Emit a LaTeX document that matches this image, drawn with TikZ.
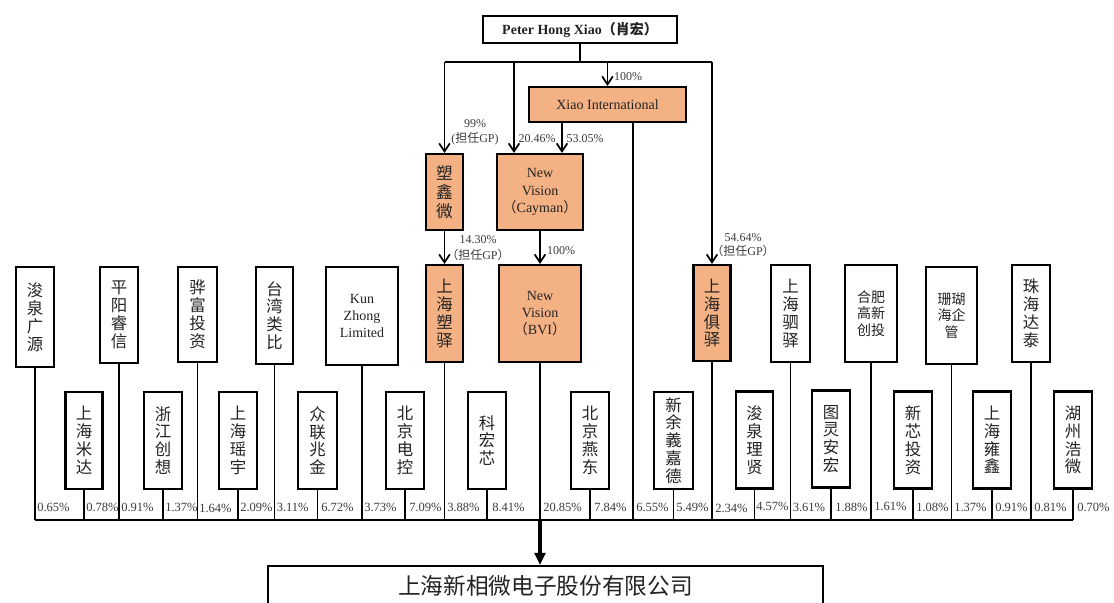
\documentclass[tikz,border=0pt]{standalone}
\usepackage{fontspec}
\setmainfont{Liberation Serif}
\newfontfamily\cjk{Noto Sans CJK SC}
\usetikzlibrary{arrows.meta}
\definecolor{orbox}{RGB}{244,177,131}
\definecolor{txt}{RGB}{35,35,35}
\definecolor{lbltxt}{RGB}{60,60,60}
\begin{document}
\begin{tikzpicture}[x=0.75pt,y=-0.75pt,
  box/.style={draw=black, line width=1.6pt, inner sep=0pt, align=center, text=txt},
  obox/.style={box, fill=orbox},
  sz/.style n args={2}{minimum width=#1*0.75pt, minimum height=#2*0.75pt},
  cv/.style={font=\cjk\fontsize{12.3}{13.4}\selectfont},
  cs/.style={font=\cjk\fontsize{10.5}{12.5}\selectfont},
  lt/.style={font=\fontsize{10.5}{13}\selectfont},
  ln/.style={line width=1.35pt, draw=black},
  arr/.style={ln, -{Straight Barb[length=6pt,width=8pt,line width=1.3pt]}},
  pct/.style={font=\fontsize{9.4}{11}\selectfont, text=lbltxt, inner sep=0pt, anchor=west},
  lbl/.style={font=\fontsize{9}{11}\selectfont, text=lbltxt, inner sep=0pt}
]
\useasboundingbox (0,0) rectangle (1114,603);
\fill[white] (0,0) rectangle (1114,603);

% top owner
\node[box, sz={194}{27}, font=\bfseries\fontsize{10.5}{12}\selectfont] (peter) at (580,29.5) {Peter Hong Xiao{\cjk\bfseries（肖宏）}};
\node[obox, sz={157}{35}, lt] (xi) at (607.5,104.5) {Xiao International};
\node[obox, sz={37}{76}, font=\cjk\fontsize{12.5}{14.2}\selectfont] (sx) at (444.5,192) {塑\\鑫\\微};
\node[obox, sz={86}{76}, lt] (cay) at (540,192) {New\\Vision\\{\cjk （}Cayman{\cjk ）}};
\node[obox, sz={37}{97}, cv] (sy) at (444.5,313.5) {上\\海\\塑\\驿};
\node[obox, sz={82}{97}, lt] (bvi) at (540,313.5) {New\\Vision\\{\cjk （}BVI{\cjk ）}};
\node[obox, sz={37}{96}, cv] (jy) at (712,313) {上\\海\\俱\\驿};

% top row white boxes
\node[box, sz={38}{100}, cv] (a1) at (35,317) {浚\\泉\\广\\源};
\node[box, sz={38}{96}, cv] (a2) at (119,315) {平\\阳\\睿\\信};
\node[box, sz={39}{95}, cv] (a3) at (197.5,314.5) {骅\\富\\投\\资};
\node[box, sz={37}{97}, cv] (a4) at (274.5,315.5) {台\\湾\\类\\比};
\node[box, sz={72}{98}, lt, font=\fontsize{10.5}{12.6}\selectfont] (a5) at (362,316) {Kun\\Zhong\\Limited};
\node[box, sz={39}{97}, cv] (a6) at (790.5,313.5) {上\\海\\驷\\驿};
\node[box, sz={52}{97}, cs] (a7) at (871,313.5) {合肥\\高新\\创投};
\node[box, sz={51}{97}, cs] (a8) at (951.5,315.5) {珊瑚\\海企\\管};
\node[box, sz={38}{97}, cv] (a9) at (1031,313.5) {珠\\海\\达\\泰};

% bottom row white boxes
\node[box, sz={37}{97}, cv] (b1) at (84,440.5) {上\\海\\米\\达};
\node[box, sz={38}{97}, cv] (b2) at (163,440.5) {浙\\江\\创\\想};
\node[box, sz={38}{97}, cv] (b3) at (238,440.5) {上\\海\\瑶\\宇};
\node[box, sz={39}{97}, cv] (b4) at (317.5,440.5) {众\\联\\兆\\金};
\node[box, sz={38}{97}, cv] (b5) at (405,440.5) {北\\京\\电\\控};
\node[box, sz={38}{97}, cv] (b6) at (487,440.5) {科\\宏\\芯};
\node[box, sz={38}{97}, cv] (b7) at (590,440.5) {北\\京\\燕\\东};
\node[box, sz={39}{97}, cv] (b8) at (673.5,440.5) {新\\余\\義\\嘉\\德};
\node[box, sz={37}{97}, cv] (b9) at (754.5,440) {浚\\泉\\理\\贤};
\node[box, sz={38}{97}, cv] (b10) at (831,439) {图\\灵\\安\\宏};
\node[box, sz={38}{97}, cv] (b11) at (913,440) {新\\芯\\投\\资};
\node[box, sz={38}{97}, cv] (b12) at (992,440) {上\\海\\雍\\鑫};
\node[box, sz={38}{97}, cv] (b13) at (1073,440) {湖\\州\\浩\\微};

% company
\node[box, sz={555}{40}, font=\cjk\fontsize{17}{20}\selectfont] (co) at (545.5,586) {上海新相微电子股份有限公司};

% coordinates
\coordinate (topJ) at (580,62);
\coordinate (hL) at (444.5,62);
\coordinate (h2) at (514,62);
\coordinate (h3) at (607.5,62);
\coordinate (hR) at (712,62);
\coordinate (xc) at (562,0);
\coordinate (xs) at (633,0);
\coordinate (busL) at (35,520);
\coordinate (busR) at (1073,520);
\coordinate (busM) at (540,520);

% top connectors
\draw[line width=2.2pt] (peter.south) -- (topJ);
\draw[ln] (hL) -- (hR);
\draw[arr] (hL) -- (sx.north);
\draw[arr] (h2) -- (h2 |- cay.north);
\draw[arr] (h3) -- (xi.north);
\draw[arr] (hR) -- (jy.north);
\draw[arr] (xi.south -| xc) -- (cay.north -| xc);
\draw[ln] (xi.south -| xs) -- (busL -| xs);
\draw[arr] (sx.south) -- (sy.north);
\draw[arr] (cay.south) -- (bvi.north);

% stems to bus
\foreach \n in {a1,a2,a3,a4,a5,a6,a7,a8,a9,b1,b2,b3,b4,b5,b6,b7,b8,b9,b10,b11,b12,b13,sy,bvi,jy}
  \draw[ln] (\n.south) -- (\n.south |- busL);
\draw[line width=1.9pt] (busL) -- (busR);
\draw[line width=2.4pt, -{Triangle[length=9pt,width=8pt]}] (busM) -- (busM |- co.north);

% arrow labels
\node[lbl] (l100a) at (628,77) {100\%};
\node[lbl] (l99) at (475,124) {99\%};
\node[lbl] (lgp1) at (475,139) {({\cjk 担任}GP)};
\node[lbl] (l2046) at (537,139) {20.46\%};
\node[lbl] (l5305) at (585,139) {53.05\%};
\node[lbl] (l1430) at (478,240) {14.30\%};
\node[lbl] (lgp2) at (478,255) {{\cjk （担任}GP{\cjk ）}};
\node[lbl] (l100b) at (561,251) {100\%};
\node[lbl] (l5464) at (743,238) {54.64\%};
\node[lbl] (lgp3) at (743,251) {{\cjk （担任}GP{\cjk ）}};

% percentages on bus
\node[pct] (p1) at (37,507) {0.65\%};
\node[pct] (p2) at (86,507) {0.78\%};
\node[pct] (p3) at (121,507) {0.91\%};
\node[pct] (p4) at (165,507) {1.37\%};
\node[pct] (p5) at (199,508) {1.64\%};
\node[pct] (p6) at (240,507) {2.09\%};
\node[pct] (p7) at (276.5,507) {3.11\%};
\node[pct] (p8) at (321,507) {6.72\%};
\node[pct] (p9) at (364,507) {3.73\%};
\node[pct] (p10) at (409,507) {7.09\%};
\node[pct] (p11) at (447,507) {3.88\%};
\node[pct] (p12) at (492,507) {8.41\%};
\node[pct] (p13) at (543,507) {20.85\%};
\node[pct] (p14) at (594,507) {7.84\%};
\node[pct] (p15) at (636,507) {6.55\%};
\node[pct] (p16) at (676,507) {5.49\%};
\node[pct] (p17) at (715,508) {2.34\%};
\node[pct] (p18) at (756,506) {4.57\%};
\node[pct] (p19) at (792.5,507) {3.61\%};
\node[pct] (p20) at (835,507) {1.88\%};
\node[pct] (p21) at (874,506) {1.61\%};
\node[pct] (p22) at (916,507) {1.08\%};
\node[pct] (p23) at (954,507) {1.37\%};
\node[pct] (p24) at (995,507) {0.91\%};
\node[pct] (p25) at (1034,507) {0.81\%};
\node[pct] (p26) at (1077,507) {0.70\%};
\end{tikzpicture}
\end{document}
